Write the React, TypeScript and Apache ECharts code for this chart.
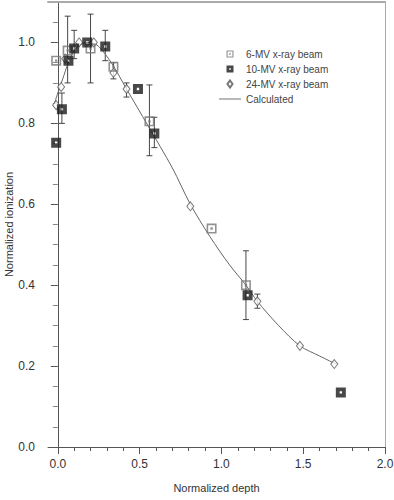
import React, { useEffect, useRef } from "react";
import * as echarts from "echarts";

// ---- data ----
const sixMV: [number, number][] = [
  [-0.01, 0.955], [0.06, 0.98], [0.2, 0.985], [0.34, 0.94], [0.56, 0.805], [0.94, 0.54], [1.15, 0.4],
];
const sixMVErr: [number, number, number][] = [
  [0.06, 0.9, 1.065], [0.2, 0.9, 1.07], [0.56, 0.72, 0.895], [1.15, 0.315, 0.485],
];
const tenMV: [number, number][] = [
  [-0.01, 0.752], [0.025, 0.835], [0.065, 0.955], [0.1, 0.985], [0.18, 1.0], [0.29, 0.99],
  [0.49, 0.885], [0.59, 0.775], [1.16, 0.375], [1.73, 0.135],
];
const tenMVErr: [number, number, number][] = [
  [0.025, 0.8, 0.875], [0.1, 0.96, 1.03], [0.29, 0.955, 1.03], [0.59, 0.74, 0.815],
];
const mv24: [number, number][] = [
  [-0.01, 0.845], [0.02, 0.89], [0.045, 0.96], [0.13, 1.0], [0.22, 1.0], [0.34, 0.925],
  [0.42, 0.885], [0.81, 0.595], [1.22, 0.36], [1.48, 0.25], [1.69, 0.205],
];
const mv24Err: [number, number, number][] = [
  [0.34, 0.91, 0.95], [0.42, 0.865, 0.9], [1.22, 0.343, 0.378],
];
const calculated: [number, number][] = [
  [-0.02, 0.85], [0.0, 0.875], [0.03, 0.91], [0.06, 0.945], [0.1, 0.98], [0.14, 0.995],
  [0.2, 1.0], [0.25, 0.99], [0.33, 0.948], [0.42, 0.885], [0.55, 0.795], [0.7, 0.69],
  [0.81, 0.6], [0.93, 0.52], [1.05, 0.45], [1.15, 0.4], [1.22, 0.36], [1.35, 0.3],
  [1.48, 0.25], [1.6, 0.225], [1.7, 0.205],
];
const xMajorTicks = [0, 0.5, 1.0, 1.5, 2.0];
const xMinorTicks = [0.1, 0.2, 0.3, 0.4, 0.6, 0.7, 0.8, 0.9, 1.1, 1.2, 1.3, 1.4, 1.6, 1.7, 1.8, 1.9];
const yMajorTicks = [0, 0.2, 0.4, 0.6, 0.8, 1.0];
const yMinorTicks = [0.05, 0.1, 0.15, 0.25, 0.3, 0.35, 0.45, 0.5, 0.55, 0.65, 0.7, 0.75, 0.85, 0.9, 0.95, 1.05];

const FONT = "'Liberation Sans', Arial, sans-serif";
const SYM6 = "path://M0,0H10V10H0Z M1.6,1.6V8.4H8.4V1.6Z M3.8,3.8H6.2V6.2H3.8Z";
const SYM10 = "path://M0,0H10V10H0Z M3.8,3.8V6.2H6.2V3.8Z";
const SYM24 = "path://M4,0L8,5.5L4,11L0,5.5Z";
const LINE_ICON = "path://M0,0H24V1H0Z";

function errSeries(name: string, data: [number, number, number][]) {
  return {
    type: "custom",
    name,
    xAxisIndex: 0,
    yAxisIndex: 0,
    data,
    z: 1,
    silent: true,
    encode: { x: 0, y: [1, 2] },
    renderItem: (params: any, api: any) => {
      const x = api.value(0);
      const lo = api.coord([x, api.value(1)]);
      const hi = api.coord([x, api.value(2)]);
      const w = 3;
      const style = { stroke: "#333", lineWidth: 0.9 };
      return {
        type: "group",
        children: [
          { type: "line", shape: { x1: lo[0], y1: lo[1], x2: hi[0], y2: hi[1] }, style },
          { type: "line", shape: { x1: lo[0] - w, y1: lo[1], x2: lo[0] + w, y2: lo[1] }, style },
          { type: "line", shape: { x1: hi[0] - w, y1: hi[1], x2: hi[0] + w, y2: hi[1] }, style },
        ],
      };
    },
  };
}

export default function App() {
  const ref = useRef<HTMLDivElement>(null);
  useEffect(() => {
    if (!ref.current) return;
    const chart = echarts.init(ref.current, undefined, { renderer: "svg" });
    const axisColor = "#555";
    chart.setOption({
      animation: false,
      backgroundColor: "#fff",
      textStyle: { fontFamily: FONT },
      grid: { left: 48, right: 9, top: 2, bottom: 53, containLabel: false, outerBoundsMode: "none" },
      legend: {
        orient: "vertical",
        left: 214,
        top: 44,
        itemWidth: 22,
        itemHeight: 7,
        itemGap: 5,
        textStyle: { fontSize: 10, color: "#444", fontFamily: FONT },
        data: [
          { name: "6-MV x-ray beam", icon: SYM6 },
          { name: "10-MV x-ray beam", icon: SYM10 },
          { name: "24-MV x-ray beam", icon: SYM24 },
          { name: "Calculated", icon: LINE_ICON },
        ],
      },
      xAxis: [
        {
          type: "value",
          min: -0.06,
          max: 2.0,
          position: "bottom",
          name: "Normalized depth",
          nameLocation: "middle",
          nameGap: 35,
          nameMoveOverlap: false,
          nameTextStyle: { fontSize: 11, color: "#333", fontFamily: FONT },
          axisLine: { onZero: false, lineStyle: { color: axisColor, width: 1 } },
          axisTick: { customValues: xMajorTicks, length: 7, lineStyle: { color: axisColor } },
          axisLabel: {
            customValues: xMajorTicks,
            formatter: (v: number) => v.toFixed(1),
            fontSize: 12,
            color: "#333",
            margin: 11,
            fontFamily: FONT,
          },
          splitLine: { show: false },
        },
        {
          type: "value",
          min: -0.06,
          max: 2.0,
          position: "bottom",
          axisLine: { show: false, onZero: false },
          axisTick: { customValues: xMinorTicks, length: 4, lineStyle: { color: axisColor } },
          axisLabel: { show: false },
          splitLine: { show: false },
        },
        {
          type: "value",
          min: -0.06,
          max: 2.0,
          position: "top",
          axisLine: { onZero: false, lineStyle: { color: "#aaa", width: 2 } },
          axisTick: { show: false },
          axisLabel: { show: false },
          splitLine: { show: false },
        },
      ],
      yAxis: [
        {
          type: "value",
          min: 0,
          max: 1.1,
          position: "left",
          name: "Normalized ionization",
          nameLocation: "middle",
          nameGap: 34,
          nameMoveOverlap: false,
          nameTextStyle: { fontSize: 11, color: "#333", fontFamily: FONT },
          axisLine: { onZero: true, lineStyle: { color: axisColor, width: 1 } },
          axisTick: { customValues: yMajorTicks, length: 7, lineStyle: { color: axisColor } },
          axisLabel: {
            customValues: yMajorTicks,
            formatter: (v: number) => v.toFixed(1),
            fontSize: 12,
            color: "#333",
            margin: 13,
            fontFamily: FONT,
          },
          splitLine: { show: false },
        },
        {
          type: "value",
          min: 0,
          max: 1.1,
          position: "left",
          axisLine: { show: true, onZero: true, lineStyle: { color: axisColor, width: 1 } },
          axisTick: { customValues: yMinorTicks, length: 5, lineStyle: { color: "#888" } },
          axisLabel: { show: false },
          splitLine: { show: false },
        },
        {
          type: "value",
          min: 0,
          max: 1.1,
          position: "right",
          axisLine: { show: true, onZero: false, lineStyle: { color: "#aaa", width: 1 } },
          axisTick: { show: false },
          axisLabel: { show: false },
          splitLine: { show: false },
        },
      ],
      series: [
        errSeries("err6", sixMVErr),
        errSeries("err10", tenMVErr),
        errSeries("err24", mv24Err),
        {
          type: "line",
          name: "Calculated",
          data: calculated,
          smooth: 0.3,
          showSymbol: false,
          symbol: "none",
          z: 2,
          lineStyle: { color: "#666", width: 1 },
          itemStyle: { color: "#666" },
        },
        {
          type: "scatter",
          name: "24-MV x-ray beam",
          data: mv24,
          symbol: SYM24,
          symbolSize: [7, 9],
          z: 3,
          itemStyle: { color: "#fff", borderColor: "#555", borderWidth: 1 },
        },
        {
          type: "scatter",
          name: "6-MV x-ray beam",
          data: sixMV,
          symbol: SYM6,
          symbolSize: 10,
          z: 4,
          itemStyle: { color: "#777" },
        },
        {
          type: "scatter",
          name: "10-MV x-ray beam",
          data: tenMV,
          symbol: SYM10,
          symbolSize: 10,
          z: 5,
          itemStyle: { color: "#1a1a1a" },
        },
      ],
    });
    return () => chart.dispose();
  }, []);
  return (
    <div
      ref={ref}
      style={{ position: "fixed", left: 0, top: 0, width: 394, height: 500, background: "#fff" }}
    />
  );
}
